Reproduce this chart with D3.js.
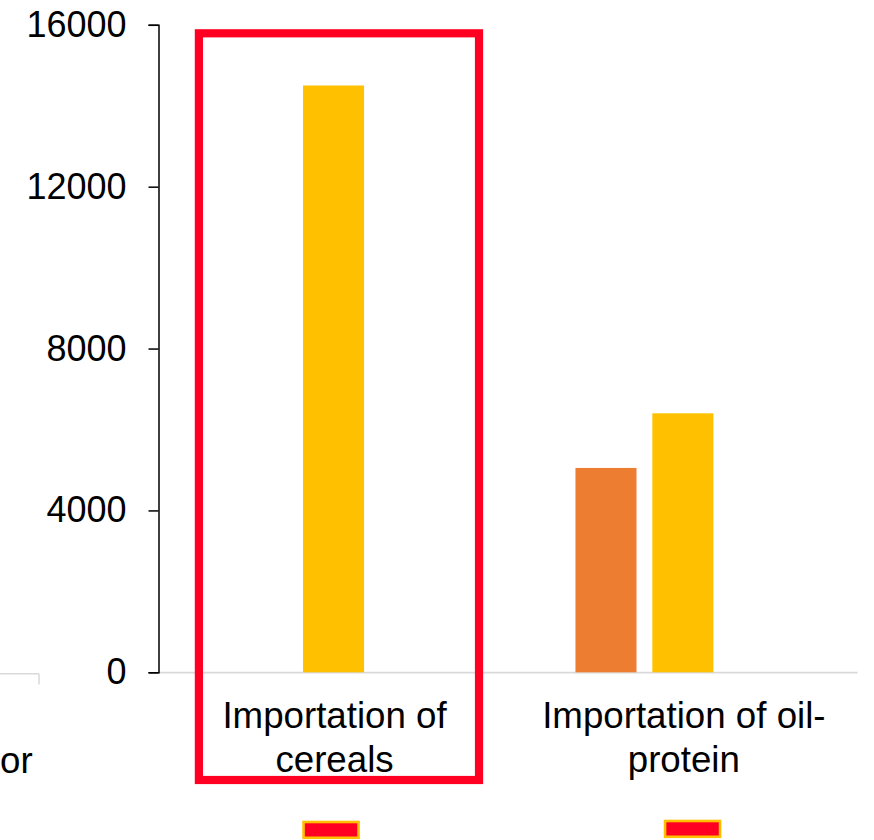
<!DOCTYPE html>
<html>
<head>
<meta charset="utf-8">
<script src="https://cdn.jsdelivr.net/npm/d3@7"></script>
<style>
  html, body { margin: 0; padding: 0; background: #fff; }
  svg { display: block; font-family: "Liberation Sans", Arial, sans-serif; }
</style>
</head>
<body>
<svg id="chart" width="874" height="840"></svg>
<script>
// Categories and their wrapped axis labels
const categories = ["Importation of cereals", "Importation of oil-protein"];
const categoryLines = [["Importation of", "cereals"], ["Importation of oil-", "protein"]];

// Three series per category (third slot is empty in this view)
const seriesKeys = ["s1", "s2", "s3"];
const seriesColors = ["#ED7D31", "#FFC000", "#A5A5A5"];
const s1Values = [null, 5050];
const s2Values = [14500, 6400];
const s3Values = [null, null];
const seriesValues = [s1Values, s2Values, s3Values];

// Y ticks
const yTicks = [0, 4000, 8000, 12000, 16000];

const svg = d3.select("#chart");
const red = "#FF0022";

const x = d3.scaleBand().domain(categories).range([158.9, 857.5]).padding(0);
const xs = d3.scaleBand().domain(seriesKeys).range([0, x.bandwidth()])
  .paddingInner(0.206).paddingOuter(0.875);
const y = d3.scaleLinear().domain([0, 16000]).range([672.3, 24.8]);

// Fragment of the neighbouring panel at the left edge
svg.append("line").attr("x1", 0).attr("x2", 39).attr("y1", 673.8).attr("y2", 673.8)
  .attr("stroke", "#d9d9d9").attr("stroke-width", 1.5);
svg.append("line").attr("x1", 39).attr("x2", 39).attr("y1", 673.8).attr("y2", 684.5)
  .attr("stroke", "#d9d9d9").attr("stroke-width", 1.5);
svg.append("text").attr("x", 32.7).attr("y", 772.5).attr("text-anchor", "end")
  .attr("font-size", 36.7).attr("fill", "#000").text("or");

// Baseline
svg.append("line").attr("x1", x.range()[0]).attr("x2", x.range()[1])
  .attr("y1", y(0) + 0.3).attr("y2", y(0) + 0.3)
  .attr("stroke", "#d9d9d9").attr("stroke-width", 1.6);

// Bars
const rows = [];
categories.forEach((c, ci) => {
  seriesKeys.forEach((k, si) => {
    const v = seriesValues[si][ci];
    if (v != null) rows.push({ c, k, v, color: seriesColors[si] });
  });
});
svg.append("g").selectAll("rect").data(rows).join("rect")
  .attr("x", d => x(d.c) + xs(d.k))
  .attr("width", xs.bandwidth())
  .attr("y", d => y(d.v))
  .attr("height", d => y(0) - y(d.v))
  .attr("fill", d => d.color);

// Y axis
const yAxis = svg.append("g").attr("transform", `translate(158.5,0)`)
  .call(d3.axisLeft(y).tickValues(yTicks).tickFormat(d3.format("d"))
    .tickSize(10).tickSizeOuter(10).tickPadding(22));
yAxis.selectAll("path, line").attr("stroke", "#000").attr("stroke-width", 1.5);
yAxis.selectAll("text").attr("font-size", 36).attr("fill", "#000")
  .attr("font-family", "Liberation Sans, Arial, sans-serif");

// Category labels
const lab = svg.append("g");
categories.forEach((c, ci) => {
  const t = lab.append("text").attr("text-anchor", "middle")
    .attr("font-size", 36.7).attr("fill", "#000");
  categoryLines[ci].forEach((line, li) => {
    t.append("tspan").attr("x", x(c) + x.bandwidth() / 2 + 1)
      .attr("y", 727.7 + li * 44.6).text(line);
  });
});

// Highlight frame around the first category
const fx0 = x(categories[0]) + 40;
const fx1 = x(categories[0]) + x.bandwidth() - 29.2;
svg.append("rect")
  .attr("x", fx0).attr("y", y(16000) + 8.5)
  .attr("width", fx1 - fx0).attr("height", 780 - (y(16000) + 8.5))
  .attr("fill", "none").attr("stroke", red).attr("stroke-width", 8.2);

// Small markers under each category
const markerOffsets = [-2.5, 9.7];
categories.forEach((c, ci) => {
  const cx = x(c) + x.bandwidth() / 2 + markerOffsets[ci];
  svg.append("rect")
    .attr("x", cx - 27.5).attr("y", 822 - ci)
    .attr("width", 55).attr("height", 15.8)
    .attr("fill", red).attr("stroke", "#FFC000").attr("stroke-width", 2.6);
});
</script>
</body>
</html>
